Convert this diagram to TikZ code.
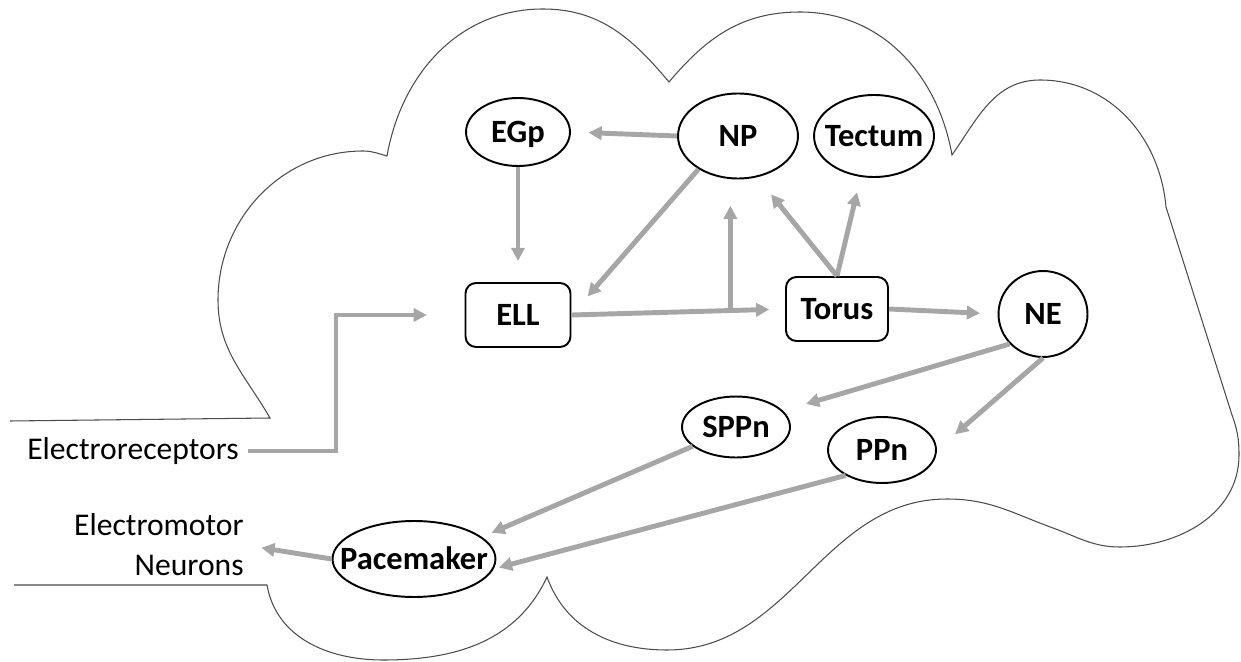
\documentclass[tikz,border=0pt]{standalone}
\usepackage{fontspec}
\setmainfont{Carlito}
\usetikzlibrary{arrows.meta,shapes.geometric,calc}
\definecolor{linkgray}{HTML}{A6A6A6}
\begin{document}
\begin{tikzpicture}[x=0.02cm,y=-0.02cm,
  brain/.style={draw=black!70, line width=0.6pt},
  region/.style={draw, ellipse, line width=1.1pt, inner sep=0pt, text height=11.9pt, text depth=0pt, font=\fontsize{18.5}{22}\selectfont\bfseries},
  stage/.style={draw, rectangle, rounded corners=6pt, line width=1.1pt, inner sep=0pt, text height=11.9pt, text depth=0pt, minimum height=1.28cm, font=\fontsize{18.5}{22}\selectfont\bfseries},
  outside/.style={inner sep=0pt, font=\fontsize{18}{22.7}\selectfont},
  link/.style={draw=linkgray, line width=2.8pt, -{Triangle[length=7.5pt,width=7.5pt]}}]
\useasboundingbox (0,0) rectangle (1241,662);
\draw[brain] (10,421) -- (270,418)
  to[out=120,in=-90] (218,300) to[out=90,in=180] (363,151) to[out=0,in=165] (387,156)
  to[out=80,in=180] (543,9) to[out=0,in=130] (669,82)
  to[out=50,in=180] (800,12) to[out=0,in=100] (952,155)
  to[out=55,in=180] (1040,80) to[out=0,in=95] (1166,207)
  -- (1232,415) to[out=-70,in=90] (1239,455) to[out=-90,in=0] (1120,547)
  to[out=180,in=-20] (1053,528) to[out=160,in=0] (947,499)
  to[out=180,in=0] (667,650) to[out=180,in=-70] (547,577)
  to[out=-115,in=0] (383,660) to[out=180,in=-80] (267,585) -- (14,585);
\node[region, minimum width=2.08cm, minimum height=1.36cm] (EGp) at (518,132) {EGp};
\node[region, minimum width=2.4cm, minimum height=1.7cm] (NP) at (738,136) {NP};
\node[region, minimum width=2.4cm, minimum height=1.64cm, inner xsep=-0.16cm] (Tectum) at (874,136) {Tectum};
\node[stage, minimum width=2.1cm] (ELL) at (518,315) {ELL};
\node[stage, minimum width=2.04cm] (Torus) at (837,309) {Torus};
\node[region, minimum width=1.78cm, minimum height=1.72cm] (NE) at (1043,314) {NE};
\node[region, minimum width=2.16cm, minimum height=1.22cm] (SPPn) at (736,427) {SPPn};
\node[region, minimum width=2.16cm, minimum height=1.32cm] (PPn) at (882,450) {PPn};
\node[region, minimum width=3.26cm, minimum height=1.52cm, inner xsep=-0.34cm] (Pacemaker) at (414,559) {Pacemaker};
\node[outside, anchor=east] (erc) at (239,451) {Electroreceptors};
\node[outside, anchor=east, align=right] (emn) at (244,545) {Electromotor\\Neurons};
\coordinate (bend) at (336,315);
\coordinate (branch) at ($(ELL.east)!0.744!(Torus.west)$);
\draw[link, shorten >=10pt] (NP.west) -- (EGp.east);
\draw[link, shorten >=12pt] (EGp.south) -- (ELL.north);
\draw[link, shorten >=14pt] (NP.220) -- (ELL.east);
\draw[link, shorten >=9pt] (ELL.east) -- (Torus.west);
\draw[link, shorten >=15pt] (branch) -- (branch |- NP.south);
\draw[link, shorten >=12.5pt] (Torus.north) -- (NP.295);
\draw[link, shorten >=9pt] (Torus.north) -- (Tectum.252);
\draw[link, shorten >=10pt] (Torus.east) -- (NE.west);
\draw[link, shorten >=13.6pt] (NE.222) -- (SPPn.19);
\draw[link, shorten >=13.6pt] (NE.south) -- (PPn.east);
\draw[link, shorten >=6pt] (SPPn.204) -- (Pacemaker.18);
\draw[link, shorten >=3pt] (PPn.215) -- (Pacemaker.-7);
\draw[link, shorten >=10pt] (Pacemaker.west) -- (emn.east);
\draw[link, shorten <=5pt, shorten >=21.5pt] (erc.east) -| (bend) -- (ELL.west);
\end{tikzpicture}
\end{document}
